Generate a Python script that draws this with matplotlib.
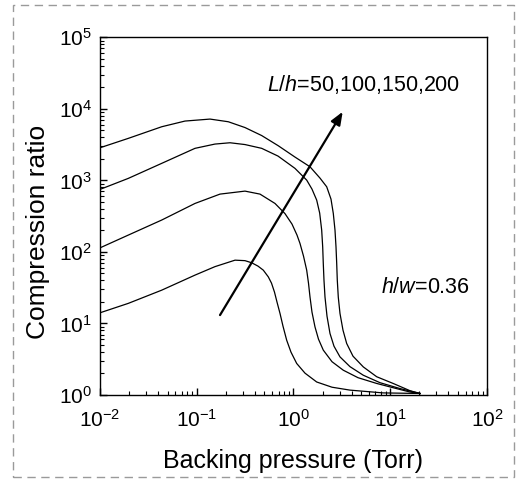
import matplotlib
matplotlib.use("Agg")
import matplotlib.pyplot as plt
from matplotlib.patches import Rectangle
from matplotlib.ticker import LogLocator, NullFormatter
import numpy as np

plt.rcParams['font.family'] = ['Liberation Sans', 'DejaVu Sans']
plt.rcParams['mathtext.fontset'] = 'custom'
plt.rcParams['mathtext.rm'] = 'Liberation Sans'
plt.rcParams['mathtext.it'] = 'Liberation Sans:italic'
plt.rcParams['mathtext.bf'] = 'Liberation Sans:bold'

# ---- data (pressure in Torr, compression ratio) ----
lh_values = [50, 100, 150, 200]

x_lh50 = [0.01, 0.01962, 0.04342, 0.0959, 0.1544, 0.2486, 0.3152, 0.3698, 0.4297,
          0.4874, 0.5490, 0.5925, 0.6362, 0.6754, 0.7255, 0.7788, 0.8504, 0.9423,
          1.079, 1.315, 1.737, 2.500, 3.837, 8.418, 20.3]
y_lh50 = [14.1, 19.1, 29.2, 47.4, 62.3, 76.7, 75.5, 70.5, 63.3,
          55.6, 44.8, 36.6, 27.4, 19.9, 13.8, 9.17, 5.83, 3.97,
          2.76, 2.02, 1.52, 1.285, 1.17, 1.07, 1.05]

x_lh100 = [0.01, 0.01962, 0.04342, 0.0959, 0.1739, 0.3152, 0.4505, 0.6438, 0.8167,
           0.9649, 1.087, 1.167, 1.269, 1.369, 1.429, 1.481, 1.553, 1.668,
           1.813, 2.032, 2.500, 3.272, 4.642, 7.243, 11.20, 16.00, 20.3]
y_lh100 = [114, 172, 279, 476, 643, 708, 643, 476, 343,
           245, 172, 131.5, 87.4, 55.6, 36.6, 23.5, 14.4, 8.95,
           6.03, 4.24, 2.92, 2.22, 1.746, 1.45, 1.245, 1.10, 1.05]

x_lh150 = [0.01, 0.01962, 0.04342, 0.0959, 0.1544, 0.2207, 0.3152, 0.4691, 0.6917,
           1.036, 1.369, 1.553, 1.737, 1.865, 1.956, 2.004, 2.032, 2.066,
           2.116, 2.220, 2.384, 2.622, 3.024, 3.837, 5.265, 7.836, 12.62, 20.3]
y_lh150 = [748, 1067, 1730, 2805, 3219, 3357, 3168, 2805, 2187,
           1472, 1009, 755, 530, 349, 202, 117, 69.0, 40.3,
           23.5, 12.65, 7.24, 4.81, 3.41, 2.49, 1.89, 1.486, 1.23, 1.05]

x_lh200 = [0.01, 0.01962, 0.04342, 0.07561, 0.1371, 0.2119, 0.3152, 0.4691, 0.6966,
           1.036, 1.481, 1.878, 2.204, 2.441, 2.579, 2.685, 2.750, 2.796,
           2.836, 2.904, 3.024, 3.248, 3.546, 4.121, 5.265, 7.243, 10.75, 16.00, 20.3]
y_lh200 = [2858, 3868, 5620, 6750, 7194, 6600, 5477, 4232, 3047,
           2118, 1550, 1077, 814, 548, 345, 202, 118, 69.7,
           40.3, 23.3, 13.8, 8.06, 5.25, 3.49, 2.47, 1.80, 1.448, 1.148, 1.05]

arrow_tail = (0.174, 13.1)
arrow_head = (3.225, 9100)

lh_label = r'$L/h$=50,100,150,200'
hw_label = r'$h/w$=0.36'
xlabel = 'Backing pressure (Torr)'
ylabel = 'Compression ratio'

# ---- figure ----
fig = plt.figure(figsize=(5.19, 4.82), dpi=100)
ax = fig.add_axes([0.1927, 0.1805, 0.7456, 0.7421])

for xs, ys in [(x_lh50, y_lh50), (x_lh100, y_lh100), (x_lh150, y_lh150), (x_lh200, y_lh200)]:
    ax.plot(xs, ys, color='black', lw=0.9, solid_joinstyle='round')

ax.set_xscale('log')
ax.set_yscale('log')
ax.set_xlim(1e-2, 1e2)
ax.set_ylim(1e0, 1e5)

ax.annotate('', xy=arrow_head, xytext=arrow_tail,
            arrowprops=dict(arrowstyle='-|>,head_length=0.55,head_width=0.22',
                            color='black', lw=1.6,
                            mutation_scale=14, shrinkA=0, shrinkB=0))

ax.text(0.528, 17740, lh_label, fontsize=15.5, va='baseline', ha='left')
ax.text(7.96, 26.3, hw_label, fontsize=15.5, va='baseline', ha='left')

ax.set_xlabel(xlabel, fontsize=18, labelpad=13)
ax.set_ylabel(ylabel, fontsize=19)
ax.yaxis.set_label_coords(-0.13, 0.455)

ax.xaxis.set_minor_locator(LogLocator(base=10, subs=np.arange(2, 10), numticks=20))
ax.yaxis.set_minor_locator(LogLocator(base=10, subs=np.arange(2, 10), numticks=20))
ax.xaxis.set_minor_formatter(NullFormatter())
ax.yaxis.set_minor_formatter(NullFormatter())

ax.tick_params(which='both', direction='in', top=False, right=False, labelsize=15)
ax.tick_params(which='major', length=5, width=1)
ax.tick_params(which='minor', length=3, width=0.8)
ax.tick_params(axis='x', which='major', pad=10)
ax.tick_params(axis='y', which='major', pad=6)
for s in ax.spines.values():
    s.set_linewidth(1.0)

fig.patches.append(Rectangle((12.5 / 519, 1 - 476.5 / 482), (514 - 12.5) / 519, (476.5 - 4.5) / 482,
                             transform=fig.transFigure, fill=False, edgecolor='#9a9a9a',
                             lw=1.0, linestyle=(0, (6, 4))))

fig.savefig('out.png', dpi=100)
